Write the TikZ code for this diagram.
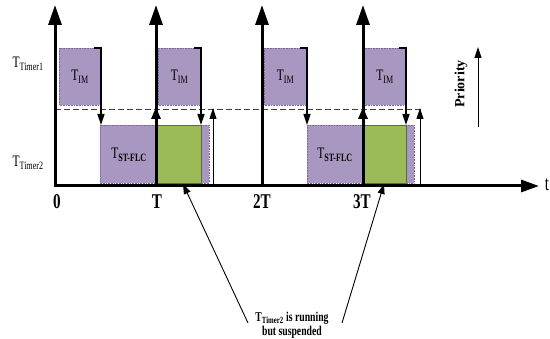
\documentclass[tikz,border=0pt]{standalone}
\usepackage{fontspec}
\setmainfont{Liberation Serif}
\usetikzlibrary{arrows.meta}
\definecolor{boxpurple}{RGB}{168,151,193}
\definecolor{boxgreen}{RGB}{155,187,89}
\definecolor{edgepurple}{RGB}{128,100,162}
\definecolor{edgegreen}{RGB}{90,110,60}
\newcommand\nar[1]{\scalebox{0.72}[1]{#1}}
\begin{document}
\begin{tikzpicture}[x=1pt,y=-1pt,
  vaxis/.style={line width=3pt,-{Triangle[length=20pt,width=13pt]}},
  haxis/.style={line width=3pt,-{Triangle[length=18pt,width=12pt]}},
  imbox/.style={fill=boxpurple,draw=edgepurple,densely dotted,line width=0.6pt},
  runbox/.style={fill=boxgreen,draw=edgegreen,line width=0.6pt},
  edgearrow/.style={line width=1.6pt,-{Triangle[length=11pt,width=7pt]}},
  thinarrow/.style={line width=1pt,-{Triangle[length=11pt,width=7pt]}},
  ptr/.style={line width=0.9pt,-{Triangle[length=10pt,width=7pt]}},
  hold/.style={line width=3pt,-{Triangle[length=12pt,width=9pt]}},
  lab/.style={inner sep=0pt},
  big/.style={lab,font=\fontsize{21}{24}\selectfont\bfseries},
  mid/.style={lab,font=\fontsize{16}{18}\selectfont},
  small/.style={lab,font=\fontsize{13.5}{15}\selectfont\bfseries}]
\useasboundingbox (0,0) rectangle (550,339);
% task boxes
\draw[imbox] (59,48) rectangle (101,105) node[mid,midway] (im1) {\nar{T\textsubscript{IM}}};
\draw[imbox] (158,48) rectangle (201,105) node[mid,midway] (im2) {\nar{T\textsubscript{IM}}};
\draw[imbox] (264,48) rectangle (307,105) node[mid,midway] (im3) {\nar{T\textsubscript{IM}}};
\draw[imbox] (364,48) rectangle (406,105) node[mid,midway] (im4) {\nar{T\textsubscript{IM}}};
\draw[imbox] (100,125) rectangle (209,183);
\draw[runbox] (156,125) rectangle (201,183);
\draw[imbox] (307,125) rectangle (414,183);
\draw[runbox] (363,125) rectangle (406,183);
\node[mid] (st1) at (129,155) {\nar{T\textsubscript{\bfseries ST-FLC}}};
\node[mid] (st2) at (335,155) {\nar{T\textsubscript{\bfseries ST-FLC}}};
% dashed priority level
\coordinate (dl) at (55,109);
\coordinate (dr) at (422,109);
\draw[dashed,line width=0.9pt,dash pattern=on 6pt off 3pt,black!75] (dl) -- (dr);
% end-of-task arrows
\coordinate (e1a) at (94,48); \coordinate (e1b) at (101,48); \coordinate (e1c) at (101,125);
\coordinate (e2a) at (194,48); \coordinate (e2b) at (201,48); \coordinate (e2c) at (201,125);
\coordinate (e3a) at (300,48); \coordinate (e3b) at (307,48); \coordinate (e3c) at (307,125);
\coordinate (e4a) at (399,48); \coordinate (e4b) at (406,48); \coordinate (e4c) at (406,125);
\draw[edgearrow] (e1a) -- (e1b) -- (e1c);
\draw[edgearrow] (e2a) -- (e2b) -- (e2c);
\draw[edgearrow] (e3a) -- (e3b) -- (e3c);
\draw[edgearrow] (e4a) -- (e4b) -- (e4c);
% resume arrows
\coordinate (r1a) at (213,186); \coordinate (r1b) at (213,108);
\coordinate (r2a) at (420,186); \coordinate (r2b) at (420,108);
\draw[thinarrow] (r1a) -- (r1b);
\draw[thinarrow] (r2a) -- (r2b);
% axes
\coordinate (a0b) at (55,187.5); \coordinate (a0t) at (55,5);
\coordinate (a1b) at (156,187.5); \coordinate (a1t) at (156,5);
\coordinate (a2b) at (262,187.5); \coordinate (a2t) at (262,5);
\coordinate (a3b) at (363,187.5); \coordinate (a3t) at (363,5);
\coordinate (hl) at (53.5,186); \coordinate (hr) at (539,186);
\draw[haxis] (hl) -- (hr);
\draw[vaxis] (a0b) -- (a0t);
\draw[vaxis] (a1b) -- (a1t);
\draw[vaxis] (a2b) -- (a2t);
\draw[vaxis] (a3b) -- (a3t);
\coordinate (h1a) at (156,135); \coordinate (h1b) at (156,107);
\coordinate (h3a) at (363,135); \coordinate (h3b) at (363,107);
\draw[hold] (h1a) -- (h1b);
\draw[hold] (h3a) -- (h3b);
% axis labels
\node[big] (l0) at (57,202) {\nar{0}};
\node[big] (l1) at (157,202) {\nar{T}};
\node[big] (l2) at (262,202) {\nar{2T}};
\node[big] (l3) at (362,202) {\nar{3T}};
\node[lab,font=\fontsize{21}{24}\selectfont] (lt) at (547,185) {\nar{t}};
\node[mid] (tt1) at (28,64) {\nar{T\textsubscript{Timer1}}};
\node[mid] (tt2) at (28,163) {\nar{T\textsubscript{Timer2}}};
% priority
\node[lab,font=\fontsize{14}{16}\selectfont\bfseries,rotate=90] (pr) at (461,84) {Priority};
\coordinate (pa) at (478,127); \coordinate (pb) at (478,47);
\draw[thinarrow] (pa) -- (pb);
% annotation
\node[small,align=center] (note) at (292,325) {\nar{T\textsubscript{Timer2} is running}\\[-1pt]\nar{but suspended}};
\coordinate (p1s) at (248,323); \coordinate (p1e) at (183,184);
\coordinate (p2s) at (342,323); \coordinate (p2e) at (384,184);
\draw[ptr] (p1s) -- (p1e);
\draw[ptr] (p2s) -- (p2e);
\end{tikzpicture}
\end{document}
